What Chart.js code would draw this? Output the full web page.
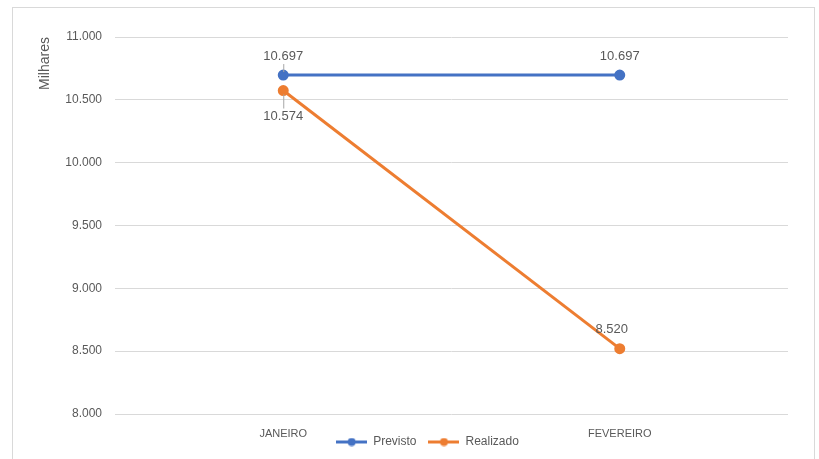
<!DOCTYPE html>
<html>
<head>
<meta charset="utf-8">
<script src="https://cdn.jsdelivr.net/npm/chart.js@4.4.1/dist/chart.umd.min.js"></script>
<style>
  html, body { margin: 0; padding: 0; background: #ffffff; }
  #wrap { position: absolute; left: 0; top: 0; width: 819px; height: 459px; }
</style>
</head>
<body>
<div id="wrap"><canvas id="c" width="819" height="459"></canvas></div>
<script>
// ---- data (values in milhares) ----
const categories = ['JANEIRO', 'FEVEREIRO'];
const previsto = [10697, 10697];
const realizado = [10574, 8520];
const yTicks = [8000, 8500, 9000, 9500, 10000, 10500, 11000];

const BLUE = '#4472C4';
const ORANGE = '#ED7D31';
const TEXT = '#595959';
const GRID = '#D9D9D9';
const FONT = "'Liberation Sans', Arial, sans-serif";

function fmt(v) {
  const s = Math.round(v).toString();
  return s.replace(/\B(?=(\d{3})+(?!\d))/g, '.');
}

function legendIcon(color) {
  const c = document.createElement('canvas');
  c.width = 31; c.height = 9;
  const g = c.getContext('2d');
  g.strokeStyle = color; g.lineWidth = 3;
  g.beginPath(); g.moveTo(0, 4.5); g.lineTo(31, 4.5); g.stroke();
  g.fillStyle = color;
  g.beginPath(); g.arc(15.5, 4.5, 4, 0, Math.PI * 2); g.fill();
  return c;
}
const icons = [legendIcon(BLUE), legendIcon(ORANGE)];

// label placement per dataset / point (style, not data)
const labelPlacement = [
  [{ dx: 0, dy: -19, leader: true }, { dx: 0, dy: -19 }],
  [{ dx: 0, dy: 26, leader: true }, { dx: -8, dy: -19 }]
];

const frame = {
  id: 'frame',
  beforeDraw(chart) {
    const ctx = chart.ctx;
    ctx.save();
    ctx.strokeStyle = GRID; ctx.lineWidth = 1;
    ctx.strokeRect(12.5, 7.5, 802, 470);
    ctx.restore();
  }
};

// lift the legend so it sits level with the category labels (as in the original)
const legendShift = {
  id: 'legendShift',
  afterLayout(chart) {
    const lg = chart.legend;
    if (!lg) return;
    lg.top -= 19; lg.bottom -= 19;
    lg.left += 17; lg.right += 17;
  }
};

const dataLabels = {
  id: 'dataLabels',
  afterDatasetsDraw(chart) {
    const ctx = chart.ctx;
    ctx.save();
    ctx.font = '13px ' + FONT;
    ctx.fillStyle = TEXT;
    ctx.textAlign = 'center';
    ctx.textBaseline = 'middle';
    chart.data.datasets.forEach((ds, di) => {
      const meta = chart.getDatasetMeta(di);
      meta.data.forEach((pt, i) => {
        const p = labelPlacement[di][i];
        const lx = pt.x + p.dx, ly = pt.y + p.dy;
        if (p.leader) {
          ctx.strokeStyle = '#A6A6A6'; ctx.lineWidth = 1;
          ctx.beginPath();
          if (p.dy < 0) { ctx.moveTo(pt.x + 0.5, ly + 8); ctx.lineTo(pt.x + 0.5, pt.y - 3); }
          else { ctx.moveTo(pt.x + 0.5, pt.y + 4); ctx.lineTo(pt.x + 0.5, ly - 8); }
          ctx.stroke();
        }
        ctx.fillText(fmt(ds.data[i]), lx, ly);
      });
    });
    ctx.restore();
  }
};

new Chart(document.getElementById('c'), {
  type: 'line',
  data: {
    labels: categories,
    datasets: [
      { label: 'Previsto', data: previsto, borderColor: BLUE, backgroundColor: BLUE,
        borderWidth: 3, pointRadius: 4, pointHoverRadius: 4, pointBackgroundColor: BLUE,
        pointBorderColor: BLUE, tension: 0 },
      { label: 'Realizado', data: realizado, borderColor: ORANGE, backgroundColor: ORANGE,
        borderWidth: 3, pointRadius: 4, pointHoverRadius: 4, pointBackgroundColor: ORANGE,
        pointBorderColor: ORANGE, tension: 0 }
    ]
  },
  options: {
    responsive: false,
    animation: false,
    events: [],
    layout: { padding: { left: 33, right: 31, top: 37, bottom: -18 } },
    scales: {
      x: {
        type: 'category',
        offset: true,
        grid: { display: false, drawTicks: false },
        border: { display: false },
        ticks: { color: TEXT, font: { family: FONT, size: 11 }, padding: 13, maxRotation: 0 },
        afterFit(s) { s.height = 29; }
      },
      y: {
        min: 8000, max: 11000,
        afterBuildTicks(s) { s.ticks = yTicks.map(v => ({ value: v })); },
        grid: { color: GRID, lineWidth: 1, drawTicks: false },
        border: { display: false },
        ticks: { color: TEXT, font: { family: FONT, size: 12 }, padding: 13, callback: v => fmt(v) },
        title: { display: true, text: 'Milhares', align: 'end', color: TEXT,
                 font: { family: FONT, size: 14 } },
        afterFit(s) { s.width = 82; }
      }
    },
    plugins: {
      tooltip: { enabled: false },
      legend: {
        position: 'bottom',
        labels: {
          usePointStyle: true,
          pointStyleWidth: 31,
          color: TEXT,
          font: { family: FONT, size: 12 },
          padding: 12,
          generateLabels(chart) {
            const items = Chart.defaults.plugins.legend.labels.generateLabels(chart);
            items.forEach((it, i) => { it.pointStyle = icons[i]; it.fontColor = TEXT; });
            return items;
          }
        }
      }
    }
  },
  plugins: [frame, legendShift, dataLabels]
});
</script>
</body>
</html>
